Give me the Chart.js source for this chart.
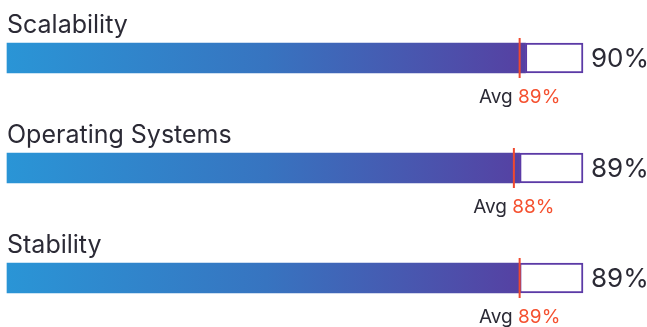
<!DOCTYPE html>
<html>
<head>
<meta charset="utf-8">
<script src="https://cdn.jsdelivr.net/npm/chart.js@4/dist/chart.umd.min.js"></script>
<style>
    html, body { margin: 0; padding: 0; background: #ffffff; }
    #wrap { width: 647px; height: 327px; position: relative; }
</style>
</head>
<body>
<div id="wrap"><canvas id="chart"></canvas></div>
<script>
const categories = ['Scalability', 'Operating Systems', 'Stability'];
const scores = [90, 89, 89];
const averages = [89, 88, 89];
const maxScore = 100;

const fontFamily = 'Inter, "Noto Sans", sans-serif';

// fond du reste de la barre (jusqu'à 100)
const remainder = scores.map(v => maxScore - v);

// dessine libellés, valeurs et marqueur de moyenne
const labelsPlugin = {
    id: 'labelsPlugin',
    afterDatasetsDraw(chart) {
        const ctx = chart.ctx;
        const x = chart.scales.x;
        const y = chart.scales.y;
        const area = chart.chartArea;

        categories.forEach((cat, i) => {
            const cy = y.getPixelForValue(i);
            const top = cy - 15;
            const bottom = cy + 15;

            ctx.save();
            // nom de la catégorie
            ctx.fillStyle = '#2b2a35';
            ctx.font = '400 25px ' + fontFamily;
            ctx.textAlign = 'left';
            ctx.textBaseline = 'alphabetic';
            ctx.fillText(cat, area.left, top - 10);

            // valeur à droite
            ctx.font = '400 26px ' + fontFamily;
            ctx.textBaseline = 'middle';
            ctx.fillText(scores[i] + '%', area.right + 8, cy + 1);

            // ligne de moyenne
            const ax = x.getPixelForValue(averages[i]);
            ctx.strokeStyle = '#f0492f';
            ctx.lineWidth = 2;
            ctx.beginPath();
            ctx.moveTo(ax, top - 5);
            ctx.lineTo(ax, bottom + 5);
            ctx.stroke();

            // texte Avg xx%
            ctx.font = '400 19px ' + fontFamily;
            ctx.textBaseline = 'alphabetic';
            const avgLabel = 'Avg ';
            const avgValue = averages[i] + '%';
            const w1 = ctx.measureText(avgLabel).width;
            const w2 = ctx.measureText(avgValue).width;
            const startX = ax - (w1 + w2) / 2;
            ctx.fillStyle = '#2b2a35';
            ctx.fillText(avgLabel, startX, bottom + 30);
            ctx.fillStyle = '#f5502f';
            ctx.fillText(avgValue, startX + w1, bottom + 30);
            ctx.restore();
        });
    }
};

const canvas = document.getElementById('chart');

new Chart(canvas, {
    type: 'bar',
    data: {
        labels: categories,
        datasets: [
            {
                label: 'Score',
                data: scores,
                backgroundColor: (context) => {
                    const chart = context.chart;
                    const area = chart.chartArea;
                    if (!area) return '#2b93d6';
                    const g = chart.ctx.createLinearGradient(area.left, 0, chart.scales.x.getPixelForValue(90), 0);
                    g.addColorStop(0, '#2a95d6');
                    g.addColorStop(0.5, '#3774c0');
                    g.addColorStop(1, '#5640a2');
                    return g;
                },
                borderWidth: 0,
                barThickness: 30,
                clip: false,
                stack: 's'
            },
            {
                label: 'Rest',
                data: remainder,
                backgroundColor: '#ffffff',
                borderColor: '#5b3aa6',
                borderWidth: 2,
                borderSkipped: false,
                barThickness: 30,
                clip: false,
                stack: 's'
            }
        ]
    },
    options: {
        indexAxis: 'y',
        responsive: true,
        maintainAspectRatio: false,
        animation: false,
        layout: { padding: { left: 7, right: 64, top: 58, bottom: 49 } },
        plugins: {
            legend: { display: false },
            tooltip: { enabled: false },
            title: { display: false }
        },
        scales: {
            x: { display: false, stacked: true, min: 0, max: maxScore },
            y: { display: false, stacked: true, offset: false }
        }
    },
    plugins: [labelsPlugin]
});
</script>
</body>
</html>
